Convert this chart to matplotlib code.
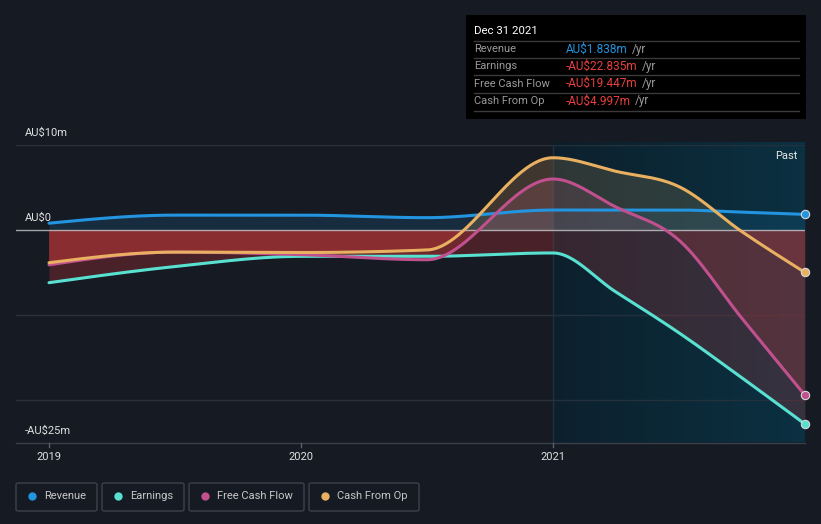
import numpy as np
import matplotlib
matplotlib.use('Agg')
import matplotlib.pyplot as plt
from matplotlib.patches import FancyBboxPatch, Rectangle
from matplotlib.colors import LinearSegmentedColormap

plt.rcParams['font.family'] = ['Roboto', 'DejaVu Sans']

# data (AU$ m)
t = [2019.0, 2019.5, 2020.0, 2020.5, 2021.0, 2021.25, 2021.5, 2021.75, 2022.0]
revenue = [0.8, 1.75, 1.75, 1.45, 2.35, 2.35, 2.35, 2.1, 1.838]
earnings = [-6.2, -4.3, -3.1, -3.1, -2.7, -7.3, -12.1, -17.4, -22.835]
fcf = [-4.1, -2.6, -2.9, -3.5, 6.0, 2.7, -1.2, -10.4, -19.447]
cfo = [-3.85, -2.6, -2.65, -2.35, 8.5, 6.9, 5.1, -0.2, -4.997]

names = ['Revenue', 'Earnings', 'Free Cash Flow', 'Cash From Op']
colors = ['#2394df', '#58e0d0', '#c0508e', '#e8b060']
tip_vals = ['AU$1.838m', '-AU$22.835m', '-AU$19.447m', '-AU$4.997m']
yticks = [10, 0, -25]
ytick_labels = ['AU$10m', 'AU$0', '-AU$25m']
xticks = [2019, 2020, 2021]

BG = '#151a23'
W, H = 821, 524


def monotone(x, y, n=60):
    # d3 curveMonotoneX style interpolation
    x = np.asarray(x, float); y = np.asarray(y, float)
    h = np.diff(x); s = np.diff(y) / h
    m = np.zeros_like(y)
    for i in range(1, len(y) - 1):
        p = (s[i - 1] * h[i] + s[i] * h[i - 1]) / (h[i - 1] + h[i])
        m[i] = (np.sign(s[i - 1]) + np.sign(s[i])) * min(abs(s[i - 1]), abs(s[i]), 0.5 * abs(p))
    m[0] = (3 * s[0] - m[1]) / 2
    m[-1] = (3 * s[-1] - m[-2]) / 2
    xs, ys = [], []
    for i in range(len(h)):
        u = np.linspace(0, 1, n, endpoint=False)
        h00 = 2*u**3 - 3*u**2 + 1; h10 = u**3 - 2*u**2 + u
        h01 = -2*u**3 + 3*u**2; h11 = u**3 - u**2
        xs.append(x[i] + u * h[i])
        ys.append(h00*y[i] + h10*h[i]*m[i] + h01*y[i+1] + h11*h[i]*m[i+1])
    xs.append([x[-1]]); ys.append([y[-1]])
    return np.concatenate(xs), np.concatenate(ys)


def fx(px):
    return px / W


def fy(py):
    return 1 - py / H


fig = plt.figure(figsize=(8.21, 5.24), dpi=100, facecolor=BG)
ax = fig.add_axes([fx(16), fy(442.5), (805 - 16) / W, (442.5 - 145) / H])
ax.set_facecolor(BG)
x0 = 2019 - 33 / 252
ax.set_xlim(x0, 2022)
ax.set_ylim(-25, 10)
for s in ax.spines.values():
    s.set_visible(False)
ax.set_xticks([]); ax.set_yticks([])

# past region shading
cmap = LinearSegmentedColormap.from_list('past', ['#0e1c27', '#0b3142'])
ax.imshow(np.linspace(0, 1, 256)[None, :], extent=[2021, 2022, -25, 10.2], aspect='auto',
          cmap=cmap, zorder=0.5, clip_on=False)
ax.axvline(2021, color='#24313c', lw=1, zorder=0.6)

# grid
for g in [10, -10, -20]:
    ax.axhline(g, color='#2b313b', lw=1, zorder=0.7)
ax.axhline(-25, color='#3a404a', lw=1, zorder=0.7, clip_on=False)

series = [revenue, earnings, fcf, cfo]
curves = [monotone(t, v) for v in series]

# fills
xr, yr = curves[0]
ax.fill_between(xr, yr, 0, color=colors[0], alpha=0.15, lw=0, zorder=1)
for (xc, yc), c in zip(curves[1:], colors[1:]):
    ax.fill_between(xc, yc, 0, where=yc < 0, interpolate=True, color='#d03a3c', alpha=0.28, lw=0, zorder=1)
    ax.fill_between(xc, yc, 0, where=yc > 0, interpolate=True, color=c, alpha=0.2, lw=0, zorder=1)
# teal wash over the past section
ax.axvspan(2021, 2022, color='#0b3142', alpha=0.22, lw=0, zorder=1.5)

ax.axhline(0, color='#c8c8cc', lw=1, alpha=0.8, zorder=2)

for (xc, yc), c, v in zip(curves, colors, series):
    ax.plot(xc, yc, color=c, lw=2.2, zorder=3, solid_capstyle='round')
    ax.plot(t[-1], v[-1], 'o', ms=6, color=c, mec='#d8d8d8', mew=0.8, zorder=4, clip_on=False)

# y labels
for v, lab in zip(yticks, ytick_labels):
    ax.text(x0 + 9 / 252, v + 12 / 8.5, lab, color='#e0e0e0', fontsize=8, va='center', ha='left')

# x ticks
for xt in xticks:
    ax.plot([xt, xt], [-25, -25 - 4 / 8.5], color='#5a606a', lw=1, clip_on=False)
    ax.text(xt, -25 - 14.5 / 8.5, str(xt), color='#e0e0e0', fontsize=8, ha='center', va='center')

ax.text(2022 - 8 / 252, 10 - 11 / 8.5, 'Past', color='#e8e8e8', fontsize=8, ha='right', va='center')

# tooltip
fig.patches.append(Rectangle((fx(466), fy(119)), (806 - 466) / W, (119 - 15) / H,
                             transform=fig.transFigure, facecolor='#000000', edgecolor='none'))
fig.text(fx(474), fy(31), 'Dec 31 2021', color='#ffffff', fontsize=8.2, va='center')
for py in [41, 58, 75, 93, 111]:
    fig.add_artist(plt.Line2D([fx(474), fx(799)], [fy(py), fy(py)], color='#3a3a3a', lw=1))
for i, (nm, val) in enumerate(zip(names, tip_vals)):
    py = 49 + i * 17.3
    fig.text(fx(474), fy(py), nm, color='#9a9a9a', fontsize=8, va='center')
    vc = colors[0] if i == 0 else '#e8403f'
    tx = fig.text(fx(566), fy(py), val, color=vc, fontsize=8.5, va='center')
    fig.canvas.draw()
    bb = tx.get_window_extent()
    fig.text(bb.x1 / W + fx(4), fy(py), '/yr', color='#9a9a9a', fontsize=8.5, va='center')

# legend
boxes = [(16, 97), (102, 184), (189, 304), (309, 419)]
for (l, r), nm, c in zip(boxes, names, colors):
    fig.patches.append(FancyBboxPatch((fx(l), fy(511)), (r - l) / W, 28 / H,
                                      boxstyle='round,pad=0,rounding_size=0.003',
                                      transform=fig.transFigure, facecolor='none',
                                      edgecolor='#3c424c', lw=1))
    fig.add_artist(plt.Line2D([fx(l + 16)], [fy(496)], marker='o', ms=6, color=c, mew=0))
    fig.text(fx(l + 28), fy(496), nm, color='#c8c8c8', fontsize=8, va='center')

fig.savefig('out.png', dpi=100, facecolor=BG)
